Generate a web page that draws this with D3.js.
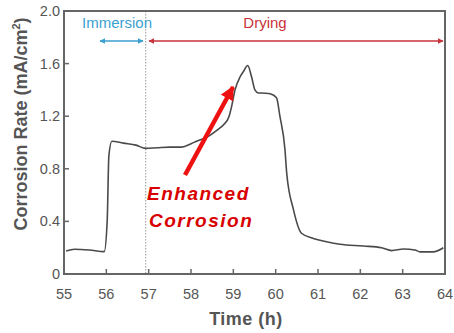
<!DOCTYPE html>
<html>
<head>
<meta charset="utf-8">
<script src="https://cdn.jsdelivr.net/npm/d3@7"></script>
<style>
  body { margin: 0; background: #fff; }
  text { font-family: "Liberation Sans", Arial, sans-serif; }
</style>
</head>
<body>
<div id="canvas"></div>
<script>
"use strict";

/* Data */
let timeH = [55.05, 55.25, 55.6, 55.95, 56.02, 56.06, 56.13, 56.4, 56.7, 56.93, 57.2, 57.5, 57.78, 58.0, 58.13, 58.4, 58.64,
  58.77, 58.9, 58.96, 59.04, 59.16, 59.24, 59.34, 59.43, 59.51, 59.59, 59.75, 59.87, 60.02, 60.1, 60.22, 60.26,
  60.42, 60.61, 60.89, 61.2, 61.52, 62.07, 62.5, 62.74, 63.02, 63.29, 63.41, 63.72, 63.96];
let rate = [0.175, 0.188, 0.182, 0.17, 0.4, 0.9, 1.01, 0.995, 0.98, 0.955, 0.96, 0.965, 0.965, 0.99, 1.01, 1.045, 1.1,
  1.135, 1.2, 1.275, 1.4, 1.5, 1.54, 1.585, 1.5, 1.4, 1.377, 1.375, 1.37, 1.34, 1.2, 0.945, 0.77,
  0.49, 0.31, 0.27, 0.245, 0.226, 0.213, 0.2, 0.178, 0.19, 0.183, 0.168, 0.168, 0.2];
let xTicks = [55, 56, 57, 58, 59, 60, 61, 62, 63, 64];
let yTicks = [0, 0.4, 0.8, 1.2, 1.6, 2.0];
let yTickLabels = ["0", "0.4", "0.8", "1.2", "1.6", "2.0"];
let switchTime = 56.93;

let svgWidth = 454;
let svgHeight = 333;
let plotLeft = 64, plotRight = 445, plotTop = 11, plotBottom = 274;
let axisColor = "#666";

let svg = d3.select("#canvas")
  .append("svg")
  .attr("width", svgWidth)
  .attr("height", svgHeight);

let xScale = d3.scaleLinear().domain([55, 64]).range([plotLeft, plotRight]);
let yScale = d3.scaleLinear().domain([0, 2]).range([plotBottom, plotTop]);

/* Markers */
let defs = svg.append("defs");
function marker(id, color, w, h) {
  defs.append("marker")
    .attr("id", id)
    .attr("viewBox", "0 0 10 10")
    .attr("refX", 9).attr("refY", 5)
    .attr("markerWidth", w).attr("markerHeight", h)
    .attr("markerUnits", "userSpaceOnUse")
    .attr("orient", "auto-start-reverse")
    .append("path")
    .attr("d", "M0,0 L10,5 L0,10 Z")
    .attr("fill", color);
}
marker("blueHead", "#3c9fd1", 6, 6);
marker("redHead", "#c8323c", 6, 6);
marker("bigRed", "#ee1111", 14, 14);

/* Dotted switch line */
svg.append("line")
  .attr("x1", xScale(switchTime)).attr("x2", xScale(switchTime))
  .attr("y1", plotTop).attr("y2", plotBottom)
  .attr("stroke", "#999")
  .attr("stroke-width", 1)
  .attr("stroke-dasharray", "1.5,1.5");

/* Curve */
let points = timeH.map((t, i) => [t, rate[i]]);
let line = d3.line()
  .x(d => xScale(d[0]))
  .y(d => yScale(d[1]))
  .curve(d3.curveMonotoneX);

svg.append("path")
  .datum(points)
  .attr("d", line)
  .attr("fill", "none")
  .attr("stroke", "#4a4a4a")
  .attr("stroke-width", 1.6);

/* Frame */
svg.append("rect")
  .attr("x", plotLeft).attr("y", plotTop)
  .attr("width", plotRight - plotLeft).attr("height", plotBottom - plotTop)
  .attr("fill", "none")
  .attr("stroke", axisColor)
  .attr("stroke-width", 2);

/* Ticks, inward */
xTicks.forEach(t => {
  svg.append("line")
    .attr("x1", xScale(t)).attr("x2", xScale(t))
    .attr("y1", plotBottom).attr("y2", plotBottom - 5)
    .attr("stroke", axisColor).attr("stroke-width", 1.5);
  svg.append("text")
    .attr("x", xScale(t)).attr("y", 299)
    .attr("text-anchor", "middle")
    .attr("font-size", "14.5px")
    .attr("fill", "#555")
    .text(String(t));
});

yTicks.forEach((v, i) => {
  svg.append("line")
    .attr("x1", plotLeft).attr("x2", plotLeft + 5)
    .attr("y1", yScale(v)).attr("y2", yScale(v))
    .attr("stroke", axisColor).attr("stroke-width", 1.5);
  svg.append("text")
    .attr("x", plotLeft - 4).attr("y", yScale(v) + 5)
    .attr("text-anchor", "end")
    .attr("font-size", "14.5px")
    .attr("fill", "#555")
    .text(yTickLabels[i]);
});

/* Axis labels */
svg.append("text")
  .attr("x", 246).attr("y", 325)
  .attr("text-anchor", "middle")
  .attr("font-size", "18px")
  .attr("font-weight", "bold")
  .attr("letter-spacing", "0.5px")
  .attr("fill", "#555")
  .text("Time (h)");

let yLabel = svg.append("text")
  .attr("transform", "translate(27,124) rotate(-90)")
  .attr("text-anchor", "middle")
  .attr("font-size", "18px")
  .attr("font-weight", "bold")
  .attr("fill", "#555");
yLabel.append("tspan").text("Corrosion Rate (mA/cm");
yLabel.append("tspan").attr("font-size", "11px").attr("dy", -7).text("2");
yLabel.append("tspan").attr("dy", 7).text(")");

/* Phase arrows */
svg.append("line")
  .attr("x1", 100).attr("x2", 143)
  .attr("y1", 41).attr("y2", 41)
  .attr("stroke", "#3c9fd1").attr("stroke-width", 1.5)
  .attr("marker-start", "url(#blueHead)")
  .attr("marker-end", "url(#blueHead)");

svg.append("line")
  .attr("x1", 149).attr("x2", 443)
  .attr("y1", 41).attr("y2", 41)
  .attr("stroke", "#c8323c").attr("stroke-width", 1.5)
  .attr("marker-start", "url(#redHead)")
  .attr("marker-end", "url(#redHead)");

svg.append("text")
  .attr("x", 117).attr("y", 28)
  .attr("text-anchor", "middle")
  .attr("font-size", "15px")
  .attr("fill", "#3c9fd1")
  .text("Immersion");

svg.append("text")
  .attr("x", 265).attr("y", 28)
  .attr("text-anchor", "middle")
  .attr("font-size", "15px")
  .attr("fill", "#c8323c")
  .text("Drying");

/* Enhanced corrosion annotation */
svg.append("line")
  .attr("x1", 185).attr("y1", 175)
  .attr("x2", 233).attr("y2", 87)
  .attr("stroke", "#ee1111").attr("stroke-width", 4.5)
  .attr("marker-end", "url(#bigRed)");

let note = svg.append("text")
  .attr("font-size", "19px")
  .attr("font-weight", "bold")
  .attr("font-style", "italic")
  .attr("letter-spacing", "1.5px")
  .attr("fill", "#d80000");
note.append("tspan").attr("x", 147).attr("y", 200).text("Enhanced");
note.append("tspan").attr("x", 149).attr("y", 227).text("Corrosion");
</script>
</body>
</html>
